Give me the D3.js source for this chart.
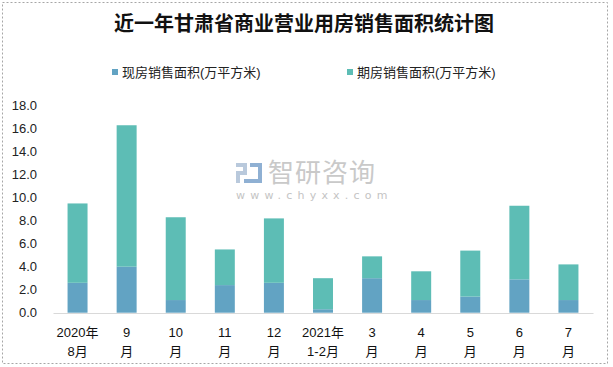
<!DOCTYPE html>
<html><head><meta charset="utf-8">
<script src="https://cdn.jsdelivr.net/npm/d3@7"></script>
<style>body{margin:0;background:#fff}svg{display:block}</style>
</head><body>
<script>
const catLine1 = ["2020年","9","10","11","12","2021年","3","4","5","6","7"];
const catLine2 = ["8月","月","月","月","月","1-2月","月","月","月","月","月"];
const currentSales = [2.6, 4.0, 1.1, 2.4, 2.6, 0.3, 3.0, 1.1, 1.4, 2.9, 1.1];
const futureSales  = [6.9, 12.3, 7.2, 3.1, 5.6, 2.7, 1.9, 2.5, 4.0, 6.4, 3.1];
const yTicks = [0,2,4,6,8,10,12,14,16,18];
const seriesNames = ["现房销售面积(万平方米)","期房销售面积(万平方米)"];
const colors = ["#62a3c3","#5dbdb5"];

const W=613,H=367;
const font = "'Liberation Sans','Noto Sans CJK SC',sans-serif";
const svg = d3.select("body").append("svg").attr("width",W).attr("height",H);
svg.append("rect").attr("width",W).attr("height",H).attr("fill","#fff");
svg.append("rect").attr("x",2.5).attr("y",2.5).attr("width",605).attr("height",361)
  .attr("fill","none").attr("stroke","#a6a6a6").attr("stroke-dasharray","2,2");

svg.append("text").attr("x",304).attr("y",31).attr("text-anchor","middle")
  .attr("font-family","'Noto Sans CJK SC',sans-serif").attr("font-weight","bold")
  .attr("font-size",20).attr("fill","#111").text("近一年甘肃省商业营业用房销售面积统计图");

// watermark
const wm = svg.append("g").attr("opacity",1);
wm.append("rect").attr("x",236).attr("y",163).attr("width",11).attr("height",4).attr("fill","#b9c9dc");
wm.append("rect").attr("x",243).attr("y",163).attr("width",4).attr("height",11).attr("fill","#b9c9dc");
wm.append("rect").attr("x",236).attr("y",171).attr("width",11).attr("height",4).attr("fill","#b9c9dc");
wm.append("rect").attr("x",236).attr("y",171).attr("width",4).attr("height",12).attr("fill","#b9c9dc");
wm.append("rect").attr("x",250).attr("y",163).attr("width",12).attr("height",4).attr("fill","#8fb0d3");
wm.append("rect").attr("x",258).attr("y",163).attr("width",4).attr("height",20).attr("fill","#8fb0d3");
wm.append("rect").attr("x",244).attr("y",179).attr("width",18).attr("height",4).attr("fill","#8fb0d3");
wm.append("text").attr("x",268).attr("y",182).attr("font-family","'Noto Sans CJK SC',sans-serif")
  .attr("font-size",26).attr("fill","#c9c9c9").attr("letter-spacing",1).text("智研咨询");
wm.append("text").attr("x",236).attr("y",199).attr("font-family","'DejaVu Sans',sans-serif")
  .attr("font-size",11).attr("fill","#c4c4c4").attr("letter-spacing",5.2).text("www.chyxx.com");

// legend
const lg = svg.append("g");
[[112,0],[347,1]].forEach(([x,i])=>{
  lg.append("rect").attr("x",x).attr("y",69).attr("width",6).attr("height",6).attr("fill",colors[i]);
  lg.append("text").attr("x",x+10).attr("y",77).attr("font-family",font).attr("font-size",13)
    .attr("fill","#222").text(seriesNames[i]);
});

const idx = d3.range(catLine1.length);
const x = d3.scaleBand().domain(idx).range([53,593]).paddingInner(0.593).paddingOuter(0.2965);
const y = d3.scaleLinear().domain([0,18]).range([312.7,105.7]);

const stackData = idx.map(i=>({i, a:currentSales[i], b:futureSales[i]}));
const stack = d3.stack().keys(["a","b"])(stackData);
svg.append("g").selectAll("g").data(stack).join("g").attr("fill",(d,k)=>colors[k])
  .selectAll("rect").data(d=>d).join("rect")
  .attr("x",d=>x(d.data.i)).attr("width",x.bandwidth())
  .attr("y",d=>y(d[1])).attr("height",d=>y(d[0])-y(d[1]));

// y axis
const ya = svg.append("g").attr("transform","translate(37,0)")
  .call(d3.axisLeft(y).tickValues(yTicks).tickFormat(d3.format(".1f")).tickSize(0).tickPadding(0));
ya.select(".domain").remove();
ya.selectAll("text").attr("font-family",font).attr("font-size",13).attr("fill","#222");

// x axis
const xa = svg.append("g").attr("transform","translate(0,313)")
  .call(d3.axisBottom(x).tickSize(0).tickFormat(""));
xa.select(".domain").attr("stroke","#d9d9d9").attr("stroke-width",1.2);
xa.selectAll(".tick").each(function(i){
  const t=d3.select(this);
  t.append("text").attr("y",24).attr("fill","#111").attr("font-family",font).attr("font-size",13)
    .attr("text-anchor","middle").text(catLine1[i]);
  t.append("text").attr("y",43).attr("fill","#111").attr("font-family",font).attr("font-size",13)
    .attr("text-anchor","middle").text(catLine2[i]);
});
</script>
</body></html>
